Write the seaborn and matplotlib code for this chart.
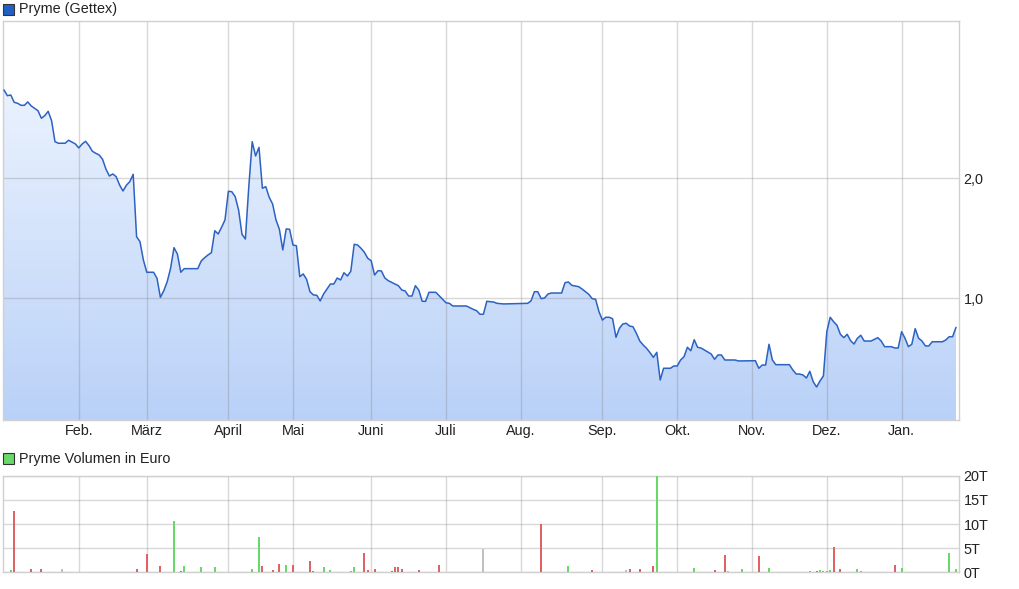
import numpy as np
import pandas as pd
import seaborn as sns
import matplotlib.pyplot as plt
from matplotlib.colors import LinearSegmentedColormap
from matplotlib.patches import Rectangle
from matplotlib.path import Path

# trading day index and closing price (EUR)
days = [0, 1, 2, 3, 4, 5, 6, 7, 8, 10, 11, 12, 13, 14, 15, 16, 18, 19, 21, 22,
        23, 24, 25, 26, 27, 28, 29, 30, 31, 32, 33, 34, 35, 36, 37, 38, 39, 40, 41, 42,
        44, 45, 46, 47, 48, 49, 50, 51, 52, 53, 57, 58, 59, 60, 61, 62, 63, 64, 65, 66,
        67, 68, 69, 70, 71, 72, 73, 74, 75, 76, 77, 78, 79, 80, 81, 82, 83, 84, 85, 86,
        87, 88, 89, 90, 91, 92, 93, 94, 96, 97, 98, 99, 100, 101, 102, 103, 104, 105, 106, 107,
        108, 109, 110, 111, 112, 113, 114, 116, 117, 118, 119, 120, 121, 122, 123, 124, 125, 127, 129, 130,
        131, 132, 136, 138, 139, 140, 141, 142, 144, 145, 147, 154, 155, 156, 157, 158, 159, 160, 161, 164,
        165, 166, 167, 169, 170, 172, 173, 174, 175, 176, 177, 178, 179, 180, 181, 182, 183, 184, 185, 186,
        187, 188, 189, 190, 191, 192, 193, 194, 196, 197, 198, 199, 200, 201, 202, 203, 204, 205, 207, 208,
        209, 210, 211, 212, 215, 216, 221, 222, 223, 224, 225, 226, 227, 231, 232, 233, 234, 235, 236, 237,
        238, 239, 240, 241, 242, 243, 244, 245, 246, 247, 248, 249, 250, 251, 252, 253, 255, 257, 258, 259,
        261, 262, 263, 264, 265, 266, 267, 268, 269, 270, 271, 272, 273, 276, 277, 278, 279, 280]
price = [2.736, 2.688, 2.694, 2.633, 2.625, 2.608, 2.608, 2.636, 2.603, 2.563, 2.500, 2.522, 2.558, 2.480, 2.305, 2.292, 2.292, 2.317, 2.286, 2.253,
         2.286, 2.308, 2.272, 2.225, 2.208, 2.194, 2.158, 2.075, 2.019, 2.036, 2.013, 1.944, 1.894, 1.942, 1.972, 2.033, 1.513, 1.472, 1.319, 1.217,
         1.217, 1.167, 1.008, 1.063, 1.138, 1.250, 1.422, 1.369, 1.217, 1.247, 1.247, 1.311, 1.338, 1.361, 1.380, 1.563, 1.536, 1.592, 1.653, 1.892,
         1.888, 1.847, 1.736, 1.533, 1.494, 1.930, 2.305, 2.186, 2.258, 1.917, 1.930, 1.842, 1.786, 1.653, 1.575, 1.403, 1.578, 1.575, 1.444, 1.438,
         1.180, 1.203, 1.158, 1.055, 1.028, 1.025, 0.978, 1.036, 1.119, 1.119, 1.169, 1.153, 1.213, 1.186, 1.225, 1.450, 1.444, 1.417, 1.383, 1.333,
         1.313, 1.194, 1.230, 1.228, 1.170, 1.147, 1.133, 1.105, 1.069, 1.061, 1.019, 1.019, 1.105, 1.069, 0.975, 0.975, 1.050, 1.050, 0.992, 0.963,
         0.958, 0.936, 0.936, 0.908, 0.897, 0.867, 0.867, 0.975, 0.969, 0.958, 0.953, 0.958, 0.978, 1.055, 1.055, 0.997, 1.003, 1.036, 1.044, 1.044,
         1.130, 1.136, 1.108, 1.097, 1.078, 1.033, 0.997, 0.992, 0.888, 0.819, 0.842, 0.842, 0.830, 0.675, 0.750, 0.786, 0.792, 0.769, 0.763, 0.708,
         0.644, 0.611, 0.583, 0.547, 0.508, 0.550, 0.319, 0.417, 0.417, 0.436, 0.436, 0.486, 0.513, 0.592, 0.563, 0.655, 0.592, 0.586, 0.553, 0.536,
         0.492, 0.528, 0.528, 0.486, 0.486, 0.478, 0.480, 0.417, 0.444, 0.444, 0.617, 0.486, 0.447, 0.447, 0.403, 0.369, 0.369, 0.361, 0.336, 0.392,
         0.305, 0.261, 0.311, 0.353, 0.722, 0.842, 0.805, 0.775, 0.700, 0.672, 0.700, 0.647, 0.619, 0.667, 0.692, 0.644, 0.644, 0.672, 0.644, 0.597,
         0.597, 0.586, 0.586, 0.722, 0.667, 0.597, 0.617, 0.747, 0.667, 0.644, 0.603, 0.603, 0.638, 0.638, 0.653, 0.680, 0.680, 0.758]

month_start = [22, 42, 66, 85, 108, 130, 152, 176, 198, 220, 242, 264]
month_labels = ["Feb.", "März", "April", "Mai", "Juni", "Juli", "Aug.", "Sep.", "Okt.", "Nov.", "Dez.", "Jan."]

# volume in thousand euro, with direction of the day
vol_days = [2, 3, 8, 11, 17, 39, 42, 46, 50, 52, 53, 58, 62, 73, 75, 76, 79, 81, 83, 85,
            90, 91, 94, 96, 102, 103, 106, 107, 109, 114, 115, 116, 117, 122, 128, 141, 142, 158, 166, 167,
            173, 183, 184, 187, 191, 192, 193, 201, 203, 207, 209, 212, 213, 217, 222, 225, 237, 239, 240, 241,
            242, 243, 244, 246, 248, 249, 251, 252, 257, 262, 264, 268, 278, 280]
vol_values = [0.5, 12.7, 0.7, 0.7, 0.7, 0.7, 3.8, 1.3, 10.6, 0.3, 1.3, 1.1, 1.1, 0.7, 7.3, 1.3, 0.5, 1.7, 1.5, 1.5,
              2.3, 0.3, 1.1, 0.5, 0.3, 1.1, 4.0, 0.5, 0.7, 0.3, 1.1, 1.1, 0.7, 0.5, 1.5, 4.8, 0.15, 10.0, 1.3, 0.15,
              0.5, 0.5, 0.7, 0.7, 1.3, 20.0, 0.15, 0.15, 0.9, 0.15, 0.5, 3.6, 0.35, 0.7, 3.4, 0.9, 0.3, 0.3, 0.5, 0.3,
              0.35, 0.5, 5.2, 0.7, 0.15, 0.15, 0.7, 0.3, 0.15, 1.5, 0.9, 0.15, 4.0, 0.7]
vol_dir = ["up", "down", "down", "down", "flat", "down", "down", "down", "up", "down", "up", "up", "up", "up", "up", "down", "down", "down", "up", "down",
           "down", "down", "up", "up", "up", "up", "down", "down", "down", "down", "down", "down", "down", "down", "down", "flat", "up", "down", "up", "down",
           "down", "flat", "down", "down", "down", "up", "down", "up", "up", "down", "down", "down", "flat", "up", "down", "up", "up", "down", "up", "up",
           "up", "up", "down", "down", "up", "down", "up", "up", "up", "down", "up", "up", "up", "up"]

sns.set_theme(style="white")
plt.rcParams['font.family'] = ['Liberation Sans', 'DejaVu Sans']

W, H = 1020, 589
fig = plt.figure(figsize=(W / 100, H / 100), dpi=100)
xl = (-0.29, 280.97)
grid_kw = dict(color=(0.5, 0.5, 0.5), alpha=0.3, lw=1)
spine_col = "#d0d0d0"
txt_col = "#222222"
fs = 10.4

# price panel
ax = fig.add_axes([3 / W, 1 - 420 / H, 956.3 / W, 399.3 / H])
ybot, ytop = -0.014, 3.313
df = pd.DataFrame({"day": days, "price": price})
poly = ax.fill_between(df["day"], df["price"], ybot, color="none", lw=0)
cmap = LinearSegmentedColormap.from_list("fill", ["#b9d1f8", "#f5f9ff"])
grad = np.linspace(1, 0, 256).reshape(-1, 1)
img = ax.imshow(grad, cmap=cmap, aspect="auto", extent=[xl[0], xl[1], ybot, ytop], origin="upper", zorder=0)
img.set_clip_path(Path(poly.get_paths()[0].vertices), transform=ax.transData)
sns.lineplot(data=df, x="day", y="price", ax=ax, color="#2c62c2", lw=1.1, zorder=3)
ax.set_xlim(*xl)
ax.set_ylim(ybot, ytop)
ax.set_xlabel("")
ax.set_ylabel("")
ax.set_xticks(month_start, month_labels)
ax.set_yticks([1, 2], ["1,0", "2,0"])
ax.yaxis.tick_right()
ax.tick_params(length=0, labelsize=fs, colors=txt_col, pad=3)
ax.set_axisbelow("line")
ax.grid(True, **grid_kw)
for s in ax.spines.values():
    s.set_color(spine_col)
    s.set_linewidth(1)

# volume panel
ax2 = fig.add_axes([3 / W, 1 - 572.3 / H, 956.3 / W, 96.6 / H])
vdf = pd.DataFrame({"day": vol_days, "vol": vol_values, "dir": vol_dir})
sns.barplot(data=vdf, x="day", y="vol", hue="dir", ax=ax2, native_scale=True, dodge=False,
            palette={"up": "#66d966", "down": "#dd6464", "flat": "#c0c0c0"},
            width=0.6, saturation=1, errorbar=None, legend=False, zorder=3,
            linewidth=0, edgecolor="none")
ax2.set_xlim(*xl)
ax2.set_ylim(0, 20)
ax2.set_xlabel("")
ax2.set_ylabel("")
ax2.set_xticks(month_start, [""] * len(month_start))
ax2.set_yticks([0, 5, 10, 15, 20], ["0T", "5T", "10T", "15T", "20T"])
ax2.yaxis.tick_right()
ax2.tick_params(length=0, labelsize=fs, colors=txt_col, pad=3)
ax2.set_axisbelow(True)
ax2.grid(True, **grid_kw)
for s in ax2.spines.values():
    s.set_color(spine_col)
    s.set_linewidth(1)

# legend boxes
fig.patches.append(Rectangle((3 / W, 1 - 15 / H), 11 / W, 11 / H, transform=fig.transFigure,
                             fc="#2060c4", ec="#333333", lw=0.8))
fig.text(19 / W, 1 - 9.5 / H, "Pryme (Gettex)", fontsize=fs, color=txt_col, va="center")
fig.patches.append(Rectangle((3 / W, 1 - 464 / H), 11 / W, 11 / H, transform=fig.transFigure,
                             fc="#66d966", ec="#333333", lw=0.8))
fig.text(19 / W, 1 - 458.5 / H, "Pryme Volumen in Euro", fontsize=fs, color=txt_col, va="center")

fig.savefig("out.png", dpi=100)
